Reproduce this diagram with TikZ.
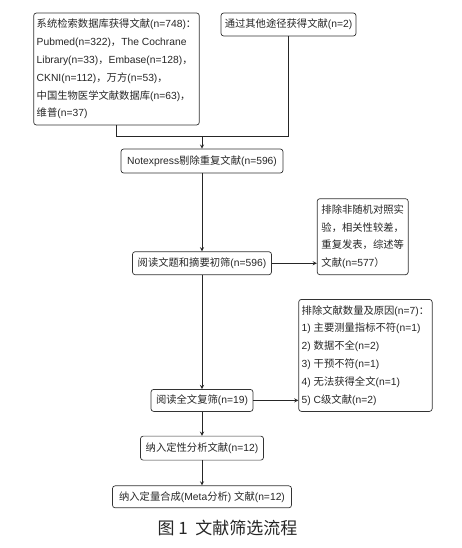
\documentclass[tikz,border=0pt]{standalone}
\usepackage{fontspec}
\setmainfont{Liberation Sans}
\newfontfamily\cjk{Noto Sans CJK SC}
\usetikzlibrary{arrows, positioning}

\begin{document}
\begin{tikzpicture}[
        x=0.3mm, y=-0.3mm,
        node distance=7.2mm and 13.5mm,
        box/.style={rectangle, draw=black!80, line width=0.6pt, rounded corners=0.8mm, inner sep=0.9mm, align=left, text=black!85, font=\fontsize{8.8}{15.2}\selectfont},
        conn/.style={line width=0.6pt, draw=black!85},
        arrow/.style={-stealth, line width=0.6pt, draw=black!85}
        ]
        \useasboundingbox (0,0) rectangle (461,548);

        % Sources (Top)
        \node (search) [box, minimum width=48.9mm, minimum height=33.6mm] at (116.5,69) {{\cjk 系统检索数据库获得文献}(n=748){\cjk ：}\\Pubmed(n=322){\cjk ，}The Cochrane\\Library(n=33){\cjk ，}Embase(n=128){\cjk ，}\\CKNI(n=112){\cjk ，万方}(n=53){\cjk ，}\\{\cjk 中国生物医学文献数据库}(n=63){\cjk ，}\\{\cjk 维普}(n=37)};
        \node (other) [box, minimum width=40.5mm, minimum height=6.9mm] at (288.5,24.5) {{\cjk 通过其他途径获得文献}(n=2)};

        % Screening column
        \node (dedup) [box, minimum width=48.6mm, minimum height=7.2mm] at (202,161) {Notexpress{\cjk 剔除重复文献}(n=596)};
        \node (screen) [box, below=23.4mm of dedup, minimum width=41.7mm, minimum height=6.9mm] {{\cjk 阅读文题和摘要初筛}(n=596)};
        \node (fulltext) [box, below=34.2mm of screen, minimum width=30.6mm, minimum height=6.6mm] {{\cjk 阅读全文复筛}(n=19)};
        \node (qual) [box, below=7.2mm of fulltext, minimum width=36.9mm, minimum height=7.2mm] {{\cjk 纳入定性分析文献}(n=12)};
        \node (meta) [box, below=7.5mm of qual, minimum width=53.7mm, minimum height=6.6mm] {{\cjk 纳入定量合成}(Meta{\cjk 分析}) {\cjk 文献}(n=12)};

        % Exclusions (Right)
        \node (excl1) [box, anchor=south west, minimum width=27.3mm, minimum height=22.8mm] at ([xshift=13.5mm]screen.south east) {{\cjk 排除非随机对照实}\\{\cjk 验，相关性较差，}\\{\cjk 重复发表，综述等}\\{\cjk 文献}(n=577{\cjk ）}};
        \node (excl2) [box, anchor=south west, minimum width=39.3mm, minimum height=33.6mm] at ([xshift=13.5mm]fulltext.south east) {{\cjk 排除文献数量及原因}(n=7){\cjk ：}\\1) {\cjk 主要测量指标不符}(n=1)\\2) {\cjk 数据不全}(n=2)\\3) {\cjk 干预不符}(n=1)\\4) {\cjk 无法获得全文}(n=1)\\5) C{\cjk 级文献}(n=2)};

        \node (caption) [text=black!85, font=\cjk\fontsize{14.5}{16}\selectfont] at (227.5,528) {图\ 1\ \ 文献筛选流程};

        % Connectors
        \coordinate (merge) at ([yshift=3.6mm]dedup.north);
        \draw [conn] (search.south) |- (merge) -| (other.south);
        \draw [arrow] (merge) -- (dedup);
        \draw [arrow] (dedup) -- (screen);
        \draw [arrow] (screen.east) -- (screen.east -| excl1.west);
        \draw [arrow] (screen) -- (fulltext);
        \draw [arrow] (fulltext.east) -- (fulltext.east -| excl2.west);
        \draw [arrow] (fulltext) -- (qual);
        \draw [arrow] (qual) -- (meta);

\end{tikzpicture}
\end{document}
